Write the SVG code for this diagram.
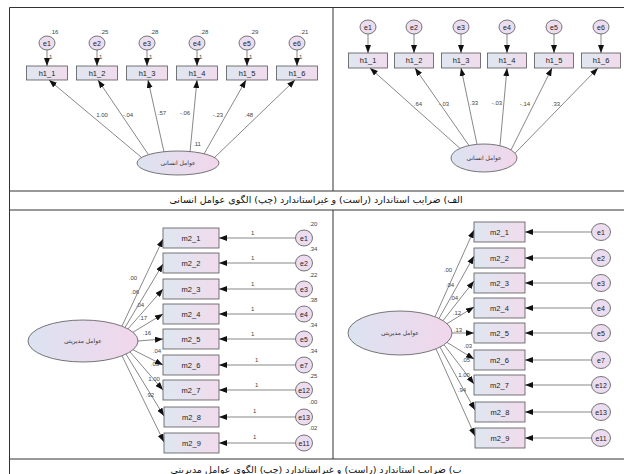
<svg xmlns="http://www.w3.org/2000/svg" width="624" height="474" viewBox="0 0 624 474">
<defs>
<linearGradient id="gb" x1="0" y1="0" x2="1" y2="0"><stop offset="0" stop-color="#dfe7f1"/><stop offset="1" stop-color="#f0dbec"/></linearGradient>
<linearGradient id="ge" x1="0" y1="0" x2="1" y2="0"><stop offset="0" stop-color="#dce3f1"/><stop offset="1" stop-color="#f2d6eb"/></linearGradient>
<marker id="ah" markerUnits="userSpaceOnUse" markerWidth="8" markerHeight="6" refX="8" refY="3" orient="auto"><path d="M0,0 L8,3 L0,6 z" fill="#111"/></marker>
<style>
.frame{stroke:#333;stroke-width:1;fill:none}
.box{fill:url(#gb);stroke:#555;stroke-width:0.8}
.err{fill:#ecdcef;stroke:#555;stroke-width:0.8}
.lat{fill:url(#ge);stroke:#555;stroke-width:0.8}
.t{font-family:"Liberation Sans",Arial,sans-serif;font-size:7.5px;fill:#222;text-anchor:middle}
.e{font-family:"Liberation Sans",Arial,sans-serif;font-size:7px;fill:#222;text-anchor:middle}
.n{font-family:"Liberation Sans",Arial,sans-serif;font-size:6px;fill:#444;text-anchor:middle}
.ns{font-family:"Liberation Sans",Arial,sans-serif;font-size:6px;fill:#444}
.ar{font-family:"DejaVu Sans",sans-serif;font-size:6px;fill:#333;text-anchor:middle}
.cap{font-family:"DejaVu Sans",sans-serif;font-size:9.5px;fill:#111;text-anchor:middle}
.ln{stroke:#555;stroke-width:0.7;fill:none;marker-end:url(#ah)}
</style>
</defs>
<g id="frame" class="frame">
<line x1="9.5" y1="7.5" x2="624" y2="7.5"/>
<line x1="9.5" y1="7.5" x2="9.5" y2="474"/>
<line x1="333" y1="7.5" x2="333" y2="191"/>
<line x1="9.5" y1="191" x2="624" y2="191"/>
<line x1="9.5" y1="210" x2="624" y2="210"/>
<line x1="333" y1="210" x2="333" y2="459"/>
<line x1="9.5" y1="459" x2="624" y2="459"/>
</g>
<g id="captions">
<text class="cap" x="316" y="203" direction="rtl">الف) ضرایب استاندارد (راست) و غیراستاندارد (چپ) الگوی عوامل انسانی</text>
<text class="cap" x="316" y="473" direction="rtl">ب) ضرایب استاندارد (راست) و غیراستاندارد (چپ) الگوی عوامل مدیریتی</text>
</g>
<g id="connectors">
<!-- top-left -->
<g class="n">
<text x="102" y="117">1.00</text><text x="128" y="117">-.04</text><text x="162" y="115">.57</text><text x="185" y="115">-.06</text><text x="218" y="117">-.23</text><text x="249" y="117">.48</text><text x="197" y="146">.11</text>
</g>
<g class="ns">
<text x="50" y="34">.16</text><text x="100" y="34">.25</text><text x="150" y="34">.28</text><text x="200" y="34">.28</text><text x="250" y="34">.29</text><text x="300" y="34">.21</text>
<text x="49" y="59">1</text><text x="99" y="59">1</text><text x="149" y="59">1</text><text x="199" y="59">1</text><text x="249" y="59">1</text><text x="299" y="59">1</text>
</g>
<line class="ln" x1="47" y1="50" x2="47" y2="66"/>
<line class="ln" x1="97" y1="50" x2="97" y2="66"/>
<line class="ln" x1="147" y1="50" x2="147" y2="66"/>
<line class="ln" x1="197" y1="50" x2="197" y2="66"/>
<line class="ln" x1="247" y1="50" x2="247" y2="66"/>
<line class="ln" x1="297" y1="50" x2="297" y2="66"/>
<line class="ln" x1="141" y1="157" x2="49" y2="80"/>
<line class="ln" x1="148" y1="154" x2="98" y2="80"/>
<line class="ln" x1="164" y1="152" x2="148" y2="80"/>
<line class="ln" x1="190" y1="152" x2="197" y2="80"/>
<line class="ln" x1="204" y1="154" x2="246" y2="80"/>
<line class="ln" x1="214" y1="158" x2="295" y2="80"/>
<!-- top-right -->
<g class="n">
<text x="418" y="106">.64</text><text x="444" y="106">-.03</text><text x="474" y="105">.33</text><text x="497" y="105">-.03</text><text x="525" y="106">-.14</text><text x="556" y="106">.33</text>
</g>
<line class="ln" x1="368" y1="34" x2="368" y2="53"/>
<line class="ln" x1="414" y1="34" x2="414" y2="53"/>
<line class="ln" x1="461" y1="34" x2="461" y2="53"/>
<line class="ln" x1="507" y1="34" x2="507" y2="53"/>
<line class="ln" x1="554" y1="34" x2="554" y2="53"/>
<line class="ln" x1="601" y1="34" x2="601" y2="53"/>
<line class="ln" x1="460" y1="148.4" x2="370" y2="68"/>
<line class="ln" x1="469" y1="145.5" x2="415" y2="68"/>
<line class="ln" x1="477" y1="144.3" x2="461" y2="68"/>
<line class="ln" x1="500" y1="145.8" x2="507" y2="68"/>
<line class="ln" x1="511" y1="150" x2="552" y2="68"/>
<line class="ln" x1="515" y1="153.2" x2="598" y2="68"/>
<!-- bottom-left -->
<g class="n">
<text x="133" y="280">.00</text><text x="135" y="294">.06</text><text x="140" y="307">.04</text><text x="143" y="320">.17</text><text x="147" y="335">.16</text><text x="157" y="353">.04</text><text x="155" y="366">.05</text><text x="154" y="381">1.00</text><text x="150" y="397">.92</text>
</g>
<g class="ns">
<text x="309" y="226">.20</text><text x="309" y="251">.34</text><text x="309" y="277">.22</text><text x="309" y="302">.38</text><text x="309" y="327">.34</text><text x="309" y="353">.34</text><text x="309" y="378">.25</text><text x="309" y="404">.00</text><text x="309" y="430">.02</text>
<text x="251" y="235">1</text><text x="251" y="260">1</text><text x="251" y="286">1</text><text x="251" y="311">1</text><text x="251" y="336">1</text><text x="255" y="362">1</text><text x="255" y="387">1</text><text x="253" y="413">1</text><text x="253" y="439">1</text>
</g>
<line class="ln" x1="295.5" y1="238" x2="219" y2="238"/>
<line class="ln" x1="295.5" y1="263" x2="219" y2="263"/>
<line class="ln" x1="295.5" y1="289" x2="219" y2="289"/>
<line class="ln" x1="295.5" y1="314" x2="219" y2="314"/>
<line class="ln" x1="295.5" y1="339" x2="219" y2="339"/>
<line class="ln" x1="295.5" y1="365" x2="219" y2="365"/>
<line class="ln" x1="295.5" y1="390" x2="219" y2="390"/>
<line class="ln" x1="295.5" y1="417" x2="219" y2="417"/>
<line class="ln" x1="295.5" y1="443" x2="219" y2="443"/>
<line class="ln" x1="122" y1="326" x2="163" y2="239"/>
<line class="ln" x1="125" y1="327.4" x2="163" y2="264"/>
<line class="ln" x1="128" y1="328.9" x2="163" y2="289"/>
<line class="ln" x1="133" y1="332.2" x2="163" y2="314"/>
<line class="ln" x1="138" y1="341" x2="163" y2="339"/>
<line class="ln" x1="133" y1="349.8" x2="163" y2="365"/>
<line class="ln" x1="130" y1="351.9" x2="163" y2="390"/>
<line class="ln" x1="126" y1="354.1" x2="164" y2="416"/>
<line class="ln" x1="122" y1="355.8" x2="164" y2="442"/>
<!-- bottom-right -->
<g class="n">
<text x="448" y="272">.00</text><text x="450" y="287">.04</text><text x="454" y="300">.04</text><text x="457" y="315">.12</text><text x="458" y="332">.13</text><text x="468" y="348">.03</text><text x="466" y="362">.05</text><text x="464" y="377">1.00</text><text x="462" y="392">.94</text>
</g>
<line class="ln" x1="591.5" y1="232" x2="525" y2="232"/>
<line class="ln" x1="591.5" y1="258" x2="525" y2="258"/>
<line class="ln" x1="591.5" y1="283" x2="525" y2="283"/>
<line class="ln" x1="591.5" y1="308" x2="525" y2="308"/>
<line class="ln" x1="591.5" y1="333" x2="525" y2="333"/>
<line class="ln" x1="591.5" y1="360" x2="525" y2="360"/>
<line class="ln" x1="591.5" y1="385" x2="525" y2="385"/>
<line class="ln" x1="591.5" y1="412" x2="525" y2="412"/>
<line class="ln" x1="591.5" y1="438" x2="525" y2="438"/>
<line class="ln" x1="435" y1="316.7" x2="474" y2="230"/>
<line class="ln" x1="439" y1="318.4" x2="474" y2="256"/>
<line class="ln" x1="443" y1="320.6" x2="474" y2="281"/>
<line class="ln" x1="447" y1="323.6" x2="474" y2="307"/>
<line class="ln" x1="452" y1="333" x2="474" y2="333"/>
<line class="ln" x1="447" y1="342.4" x2="474" y2="359"/>
<line class="ln" x1="444" y1="344.7" x2="474" y2="384"/>
<line class="ln" x1="440" y1="347.1" x2="475" y2="410"/>
<line class="ln" x1="436" y1="348.9" x2="475" y2="436"/>
</g>
<!-- top-left nodes -->
<g id="tl-e1"><ellipse class="err" cx="47" cy="43" rx="8" ry="7"/><text class="e" x="47" y="45.5">e1</text></g>
<g id="tl-e2"><ellipse class="err" cx="97" cy="43" rx="8" ry="7"/><text class="e" x="97" y="45.5">e2</text></g>
<g id="tl-e3"><ellipse class="err" cx="147" cy="43" rx="8" ry="7"/><text class="e" x="147" y="45.5">e3</text></g>
<g id="tl-e4"><ellipse class="err" cx="197" cy="43" rx="8" ry="7"/><text class="e" x="197" y="45.5">e4</text></g>
<g id="tl-e5"><ellipse class="err" cx="247" cy="43" rx="8" ry="7"/><text class="e" x="247" y="45.5">e5</text></g>
<g id="tl-e6"><ellipse class="err" cx="297" cy="43" rx="8" ry="7"/><text class="e" x="297" y="45.5">e6</text></g>
<g id="tl-h1_1"><rect class="box" x="26.5" y="66" width="41" height="14"/><text class="t" x="47" y="75.8">h1_1</text></g>
<g id="tl-h1_2"><rect class="box" x="76.5" y="66" width="41" height="14"/><text class="t" x="97" y="75.8">h1_2</text></g>
<g id="tl-h1_3"><rect class="box" x="126.5" y="66" width="41" height="14"/><text class="t" x="147" y="75.8">h1_3</text></g>
<g id="tl-h1_4"><rect class="box" x="176.5" y="66" width="41" height="14"/><text class="t" x="197" y="75.8">h1_4</text></g>
<g id="tl-h1_5"><rect class="box" x="226.5" y="66" width="41" height="14"/><text class="t" x="247" y="75.8">h1_5</text></g>
<g id="tl-h1_6"><rect class="box" x="276.5" y="66" width="41" height="14"/><text class="t" x="297" y="75.8">h1_6</text></g>
<g id="tl-latent"><ellipse class="lat" cx="178" cy="163" rx="41" ry="12"/><text class="ar" x="178" y="165" direction="rtl">عوامل انسانی</text></g>
<!-- top-right nodes -->
<g id="tr-e1"><ellipse class="err" cx="368" cy="27" rx="8" ry="7"/><text class="e" x="368" y="29.5">e1</text></g>
<g id="tr-e2"><ellipse class="err" cx="414" cy="27" rx="8" ry="7"/><text class="e" x="414" y="29.5">e2</text></g>
<g id="tr-e3"><ellipse class="err" cx="461" cy="27" rx="8" ry="7"/><text class="e" x="461" y="29.5">e3</text></g>
<g id="tr-e4"><ellipse class="err" cx="507" cy="27" rx="8" ry="7"/><text class="e" x="507" y="29.5">e4</text></g>
<g id="tr-e5"><ellipse class="err" cx="554" cy="27" rx="8" ry="7"/><text class="e" x="554" y="29.5">e5</text></g>
<g id="tr-e6"><ellipse class="err" cx="601" cy="27" rx="8" ry="7"/><text class="e" x="601" y="29.5">e6</text></g>
<g id="tr-h1_1"><rect class="box" x="348.5" y="53" width="39" height="15"/><text class="t" x="368" y="63.3">h1_1</text></g>
<g id="tr-h1_2"><rect class="box" x="394.5" y="53" width="39" height="15"/><text class="t" x="414" y="63.3">h1_2</text></g>
<g id="tr-h1_3"><rect class="box" x="441.5" y="53" width="39" height="15"/><text class="t" x="461" y="63.3">h1_3</text></g>
<g id="tr-h1_4"><rect class="box" x="487.5" y="53" width="39" height="15"/><text class="t" x="507" y="63.3">h1_4</text></g>
<g id="tr-h1_5"><rect class="box" x="534.5" y="53" width="39" height="15"/><text class="t" x="554" y="63.3">h1_5</text></g>
<g id="tr-h1_6"><rect class="box" x="581.5" y="53" width="39" height="15"/><text class="t" x="601" y="63.3">h1_6</text></g>
<g id="tr-latent"><ellipse class="lat" cx="484" cy="158" rx="33" ry="14"/><text class="ar" x="484" y="160" direction="rtl">عوامل انسانی</text></g>
<!-- bottom-left nodes -->
<g id="bl-m2_1"><rect class="box" x="163" y="228" width="56" height="20"/><text class="t" x="191" y="240.7">m2_1</text></g>
<g id="bl-m2_2"><rect class="box" x="163" y="253" width="56" height="20"/><text class="t" x="191" y="265.7">m2_2</text></g>
<g id="bl-m2_3"><rect class="box" x="163" y="279" width="56" height="20"/><text class="t" x="191" y="291.7">m2_3</text></g>
<g id="bl-m2_4"><rect class="box" x="163" y="304" width="56" height="20"/><text class="t" x="191" y="316.7">m2_4</text></g>
<g id="bl-m2_5"><rect class="box" x="163" y="329" width="56" height="20"/><text class="t" x="191" y="341.7">m2_5</text></g>
<g id="bl-m2_6"><rect class="box" x="163" y="355" width="56" height="20"/><text class="t" x="191" y="367.7">m2_6</text></g>
<g id="bl-m2_7"><rect class="box" x="163" y="380" width="56" height="20"/><text class="t" x="191" y="392.7">m2_7</text></g>
<g id="bl-m2_8"><rect class="box" x="164" y="407" width="55" height="20"/><text class="t" x="191.5" y="419.7">m2_8</text></g>
<g id="bl-m2_9"><rect class="box" x="164" y="433" width="55" height="20"/><text class="t" x="191.5" y="445.7">m2_9</text></g>
<g id="bl-e1"><ellipse class="err" cx="304" cy="238" rx="8.5" ry="8"/><text class="e" x="304" y="240.5">e1</text></g>
<g id="bl-e2"><ellipse class="err" cx="304" cy="263" rx="8.5" ry="8"/><text class="e" x="304" y="265.5">e2</text></g>
<g id="bl-e3"><ellipse class="err" cx="304" cy="289" rx="8.5" ry="8"/><text class="e" x="304" y="291.5">e3</text></g>
<g id="bl-e4"><ellipse class="err" cx="304" cy="314" rx="8.5" ry="8"/><text class="e" x="304" y="316.5">e4</text></g>
<g id="bl-e5"><ellipse class="err" cx="304" cy="339" rx="8.5" ry="8"/><text class="e" x="304" y="341.5">e5</text></g>
<g id="bl-e7"><ellipse class="err" cx="304" cy="365" rx="8.5" ry="8"/><text class="e" x="304" y="367.5">e7</text></g>
<g id="bl-e12"><ellipse class="err" cx="304" cy="390" rx="8.5" ry="8"/><text class="e" x="304" y="392.5">e12</text></g>
<g id="bl-e13"><ellipse class="err" cx="304" cy="417" rx="8.5" ry="8"/><text class="e" x="304" y="419.5">e13</text></g>
<g id="bl-e11"><ellipse class="err" cx="304" cy="443" rx="8.5" ry="8"/><text class="e" x="304" y="445.5">e11</text></g>
<g id="bl-latent"><ellipse class="lat" cx="83" cy="341" rx="55" ry="21"/><text class="ar" x="83" y="343" direction="rtl">عوامل مدیریتی</text></g>
<!-- bottom-right nodes -->
<g id="br-m2_1"><rect class="box" x="474" y="222" width="51" height="20"/><text class="t" x="499.5" y="234.7">m2_1</text></g>
<g id="br-m2_2"><rect class="box" x="474" y="248" width="51" height="20"/><text class="t" x="499.5" y="260.7">m2_2</text></g>
<g id="br-m2_3"><rect class="box" x="474" y="273" width="51" height="20"/><text class="t" x="499.5" y="285.7">m2_3</text></g>
<g id="br-m2_4"><rect class="box" x="474" y="298" width="51" height="20"/><text class="t" x="499.5" y="310.7">m2_4</text></g>
<g id="br-m2_5"><rect class="box" x="474" y="323" width="51" height="20"/><text class="t" x="499.5" y="335.7">m2_5</text></g>
<g id="br-m2_6"><rect class="box" x="474" y="350" width="51" height="20"/><text class="t" x="499.5" y="362.7">m2_6</text></g>
<g id="br-m2_7"><rect class="box" x="474" y="375" width="51" height="20"/><text class="t" x="499.5" y="387.7">m2_7</text></g>
<g id="br-m2_8"><rect class="box" x="475" y="402" width="50" height="20"/><text class="t" x="500" y="414.7">m2_8</text></g>
<g id="br-m2_9"><rect class="box" x="475" y="428" width="50" height="20"/><text class="t" x="500" y="440.7">m2_9</text></g>
<g id="br-e1"><ellipse class="err" cx="601" cy="232" rx="9.5" ry="8.5"/><text class="e" x="601" y="234.5">e1</text></g>
<g id="br-e2"><ellipse class="err" cx="601" cy="258" rx="9.5" ry="8.5"/><text class="e" x="601" y="260.5">e2</text></g>
<g id="br-e3"><ellipse class="err" cx="601" cy="283" rx="9.5" ry="8.5"/><text class="e" x="601" y="285.5">e3</text></g>
<g id="br-e4"><ellipse class="err" cx="601" cy="308" rx="9.5" ry="8.5"/><text class="e" x="601" y="310.5">e4</text></g>
<g id="br-e5"><ellipse class="err" cx="601" cy="333" rx="9.5" ry="8.5"/><text class="e" x="601" y="335.5">e5</text></g>
<g id="br-e7"><ellipse class="err" cx="601" cy="360" rx="9.5" ry="8.5"/><text class="e" x="601" y="362.5">e7</text></g>
<g id="br-e12"><ellipse class="err" cx="601" cy="385" rx="9.5" ry="8.5"/><text class="e" x="601" y="387.5">e12</text></g>
<g id="br-e13"><ellipse class="err" cx="601" cy="412" rx="9.5" ry="8.5"/><text class="e" x="601" y="414.5">e13</text></g>
<g id="br-e11"><ellipse class="err" cx="601" cy="438" rx="9.5" ry="8.5"/><text class="e" x="601" y="440.5">e11</text></g>
<g id="br-latent"><ellipse class="lat" cx="400" cy="333" rx="52" ry="22"/><text class="ar" x="400" y="335" direction="rtl">عوامل مدیریتی</text></g>
</svg>
